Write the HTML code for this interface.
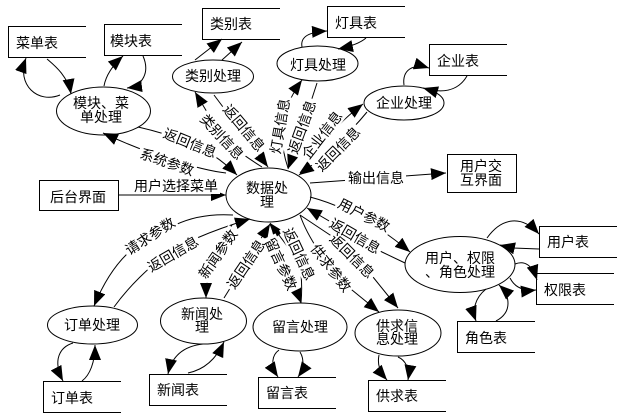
<!DOCTYPE html>
<html><head><meta charset="utf-8"><style>
html,body{margin:0;padding:0;background:#fff}
svg{display:block}
text{font-family:"Liberation Sans","Noto Sans CJK SC",sans-serif;font-size:14px;fill:#000;dominant-baseline:central}
.m{text-anchor:middle}
.e{fill:#fff;stroke:#000;stroke-width:1}
.b{fill:none;stroke:#000;stroke-width:1}
.c{fill:none;stroke:#000;stroke-width:1;marker-end:url(#a)}
</style></head><body>
<svg width="620" height="420" viewBox="0 0 620 420" xmlns="http://www.w3.org/2000/svg">
<defs><marker id="a" markerUnits="userSpaceOnUse" markerWidth="15" markerHeight="12" viewBox="0 0 15 12" refX="15" refY="6" orient="auto"><path d="M0 0L15 6L0 12Z" fill="#000"/></marker></defs>
<rect width="620" height="420" fill="#fff"/>

<ellipse class="e" cx="103.5" cy="111" rx="47" ry="24"/>
<ellipse class="e" cx="213" cy="76.5" rx="40.5" ry="16.5"/>
<ellipse class="e" cx="317.5" cy="63.5" rx="40.5" ry="17.5"/>
<ellipse class="e" cx="404" cy="103" rx="40" ry="17"/>
<ellipse class="e" cx="268.5" cy="195" rx="42.5" ry="27"/>
<ellipse class="e" cx="460" cy="264.5" rx="55" ry="28"/>
<ellipse class="e" cx="398" cy="333" rx="43" ry="23"/>
<ellipse class="e" cx="300" cy="327" rx="47" ry="24"/>
<ellipse class="e" cx="203.5" cy="321" rx="43" ry="23"/>
<ellipse class="e" cx="92.5" cy="325" rx="45" ry="19"/>

<path class="b" d="M86 26.500H8.500V57.500H86"/>
<path class="b" d="M182 24.500H104.500V55.500H182"/>
<path class="b" d="M280 8.500H202.500V39.500H280"/>
<path class="b" d="M405 6.500H327.500V37.500H405"/>
<path class="b" d="M507 44.500H429.500V75.500H507"/>
<path class="b" d="M121 381.500H43.500V412.500H121"/>
<path class="b" d="M227 374.500H149.500V405.500H227"/>
<path class="b" d="M336 377.500H258.500V408.500H336"/>
<path class="b" d="M446 380.500H368.500V411.500H446"/>
<path class="b" d="M617 226.500H539.500V257.500H617"/>
<path class="b" d="M614 273.500H536.500V304.500H614"/>
<path class="b" d="M535 321.500H457.500V352.500H535"/>
<rect class="b" x="39.500" y="180.500" width="79" height="30"/>
<rect class="b" x="447.500" y="154.500" width="69" height="38"/>

<path class="c" d="M47 59C54 65 68 76 71 94"/>
<path class="c" d="M60 95C38 104 16 85 26 58"/>
<path class="c" d="M104 86C106 75 113 65 123 56"/>
<path class="c" d="M143 56C150 72 143 86 127 88"/>
<path class="c" d="M195 60L222 39"/>
<path class="c" d="M222 60L242 42"/>
<path class="c" d="M302 47C300 36 310 32 327 31"/>
<path class="c" d="M366 38Q358 45 338 49"/>
<path class="c" d="M404 85C402 70 413 63 429 68"/>
<path class="c" d="M467 76C457 93 440 93 423 88"/>

<path class="c" d="M138 127Q165 133 190 143T237 175"/>
<path class="c" d="M226 173C200 170 150 155 103 133"/>
<path class="c" d="M262 167Q235 150 222 137L195 92"/>
<path class="c" d="M214 95L268 167"/>
<path class="c" d="M288 168C282 150 274 118 302 80"/>
<path class="c" d="M317 83L305 120L288 169"/>
<path class="c" d="M300 173C315 150 335 125 363 104"/>
<path class="c" d="M367 112Q340 145 299 175"/>
<path class="c" d="M118 195H226"/>
<path class="c" d="M310 183L446 173"/>
<path class="c" d="M310 197Q360 210 410 252"/>
<path class="c" d="M405 263L382 252L307 208"/>
<path class="c" d="M300 215L333 237L373 277L398 308"/>
<path class="c" d="M300 215C307 235 325 265 352 290L379 312"/>
<path class="c" d="M224 298L270 224"/>
<path class="c" d="M301 303Q303 280 299 262L270 223"/>
<path class="c" d="M270 224L301 303"/>
<path class="c" d="M232 225C215 250 206 275 206 298"/>
<path class="c" d="M233 215Q200 213 175 225Q150 236 128 253Q108 272 94 306"/>
<path class="c" d="M114 307Q130 285 153 265Q175 250 197 238Q220 228 250 219"/>

<path class="c" d="M73 343C60 347 52 360 63 381"/>
<path class="c" d="M82 381C90 375 95 362 95 345"/>
<path class="c" d="M203 344C185 346 172 355 168 374"/>
<path class="c" d="M188 373Q212 368 224 342"/>
<path class="c" d="M279 350C272 355 270 365 278 377"/>
<path class="c" d="M300 352C305 360 303 370 298 377"/>
<path class="c" d="M379 355C377 365 380 372 387 380"/>
<path class="c" d="M398 357C405 360 410 368 408 380"/>
<path class="c" d="M486 289C475 298 472 310 476 321"/>
<path class="c" d="M496 321C513 312 510 295 499 285"/>
<path class="c" d="M487 238C502 217 522 215 539 234"/>
<path class="c" d="M539 249L513 248L500 245"/>
<path class="c" d="M515 264Q530 258 537 280"/>
<path class="c" d="M510 278Q517 292 536 290"/>

<g fill="#fff">
<rect x="130" y="176" width="90" height="18"/>
<rect x="345" y="170" width="61" height="17"/>
<g transform="translate(190 143) rotate(22)"><rect x="-30" y="-8" width="60" height="16"/></g>
<g transform="translate(167 162) rotate(19)"><rect x="-30" y="-8" width="60" height="16"/></g>
<g transform="translate(222 137) rotate(47)"><rect x="-30" y="-8" width="60" height="16"/></g>
<g transform="translate(244 128) rotate(50)"><rect x="-30" y="-8" width="60" height="16"/></g>
<g transform="translate(280 126) rotate(-80)"><rect x="-30" y="-8" width="60" height="16"/></g>
<g transform="translate(302 127) rotate(-70)"><rect x="-30" y="-8" width="60" height="16"/></g>
<g transform="translate(322 135) rotate(-52)"><rect x="-30" y="-8" width="60" height="16"/></g>
<g transform="translate(338 149) rotate(-45)"><rect x="-30" y="-8" width="60" height="16"/></g>
<g transform="translate(364 215) rotate(27)"><rect x="-30" y="-8" width="60" height="16"/></g>
<g transform="translate(355 236) rotate(30)"><rect x="-30" y="-8" width="60" height="16"/></g>
<g transform="translate(352 256) rotate(45)"><rect x="-30" y="-8" width="60" height="16"/></g>
<g transform="translate(331 268) rotate(52)"><rect x="-30" y="-8" width="60" height="16"/></g>
<g transform="translate(299 254) rotate(65)"><rect x="-30" y="-8" width="60" height="16"/></g>
<g transform="translate(281 264) rotate(65)"><rect x="-30" y="-8" width="60" height="16"/></g>
<g transform="translate(246 264) rotate(-56)"><rect x="-30" y="-8" width="60" height="16"/></g>
<g transform="translate(218 254) rotate(-55)"><rect x="-30" y="-8" width="60" height="16"/></g>
<g transform="translate(150 236) rotate(-33)"><rect x="-30" y="-8" width="60" height="16"/></g>
<g transform="translate(173 254) rotate(-30)"><rect x="-30" y="-8" width="60" height="16"/></g>
</g>

<text class="m" x="101" y="103">模块、菜</text>
<text class="m" x="101" y="117">单处理</text>
<text class="m" x="213" y="76">类别处理</text>
<text class="m" x="318" y="65">灯具处理</text>
<text class="m" x="404" y="103">企业处理</text>
<text class="m" x="267" y="188">数据处</text>
<text class="m" x="267" y="202">理</text>
<text class="m" x="481" y="166">用户交</text>
<text class="m" x="481" y="180">互界面</text>
<text class="m" x="78" y="197">后台界面</text>
<text class="m" x="460" y="258">用户、权限</text>
<text class="m" x="460" y="272">、角色处理</text>
<text class="m" x="397" y="326">供求信</text>
<text class="m" x="397" y="339">息处理</text>
<text class="m" x="300" y="327">留言处理</text>
<text class="m" x="202" y="314">新闻处</text>
<text class="m" x="202" y="327">理</text>
<text class="m" x="92" y="325">订单处理</text>

<text x="16" y="43">菜单表</text>
<text x="110" y="41">模块表</text>
<text x="210" y="24">类别表</text>
<text x="335" y="23">灯具表</text>
<text x="437" y="61">企业表</text>
<text x="51" y="398">订单表</text>
<text x="157" y="390">新闻表</text>
<text x="266" y="393">留言表</text>
<text x="376" y="396">供求表</text>
<text x="547" y="242">用户表</text>
<text x="544" y="290">权限表</text>
<text x="465" y="338">角色表</text>

<text class="m" x="176" y="186">用户选择菜单</text>
<text class="m" x="376" y="178">输出信息</text>
<text class="m" transform="translate(190 143) rotate(22)">返回信息</text>
<text class="m" transform="translate(167 162) rotate(19)">系统参数</text>
<text class="m" transform="translate(222 137) rotate(47)">类别信息</text>
<text class="m" transform="translate(244 128) rotate(50)">返回信息</text>
<text class="m" transform="translate(280 126) rotate(-80)">灯具信息</text>
<text class="m" transform="translate(302 127) rotate(-70)">返回信息</text>
<text class="m" transform="translate(322 135) rotate(-52)">企业信息</text>
<text class="m" transform="translate(338 149) rotate(-45)">返回信息</text>
<text class="m" transform="translate(364 215) rotate(27)">用户参数</text>
<text class="m" transform="translate(355 236) rotate(30)">返回信息</text>
<text class="m" transform="translate(352 256) rotate(45)">返回信息</text>
<text class="m" transform="translate(331 268) rotate(52)">供求参数</text>
<text class="m" transform="translate(299 254) rotate(65)">返回信息</text>
<text class="m" transform="translate(281 264) rotate(65)">留言参数</text>
<text class="m" transform="translate(246 264) rotate(-56)">返回信息</text>
<text class="m" transform="translate(218 254) rotate(-55)">新闻参数</text>
<text class="m" transform="translate(150 236) rotate(-33)">请求参数</text>
<text class="m" transform="translate(173 254) rotate(-30)">返回信息</text>
</svg>
</body></html>
